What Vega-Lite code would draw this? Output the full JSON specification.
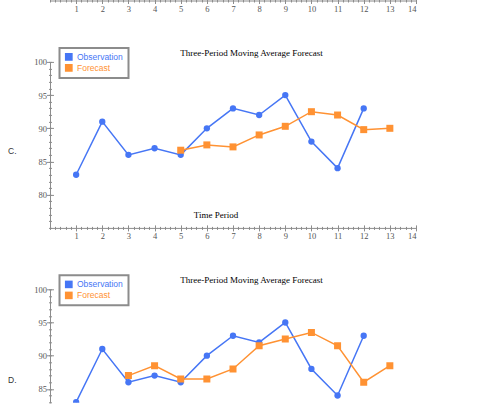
{
  "$schema": "https://vega.github.io/schema/vega-lite/v6.json",
  "description": "Three-period moving average forecast, panels C and D",
  "background": "white",
  "padding": {"left": 7, "top": -3.5, "right": 0, "bottom": 0},
  "bounds": "flush",
  "spacing": 61.4,
  "datasets": {
    "c": [
      {"period": 1, "value": 83, "series": "Observation"},
      {"period": 2, "value": 91, "series": "Observation"},
      {"period": 3, "value": 86, "series": "Observation"},
      {"period": 4, "value": 87, "series": "Observation"},
      {"period": 5, "value": 86, "series": "Observation"},
      {"period": 6, "value": 90, "series": "Observation"},
      {"period": 7, "value": 93, "series": "Observation"},
      {"period": 8, "value": 92, "series": "Observation"},
      {"period": 9, "value": 95, "series": "Observation"},
      {"period": 10, "value": 88, "series": "Observation"},
      {"period": 11, "value": 84, "series": "Observation"},
      {"period": 12, "value": 93, "series": "Observation"},
      {"period": 5, "value": 86.7, "series": "Forecast"},
      {"period": 6, "value": 87.5, "series": "Forecast"},
      {"period": 7, "value": 87.2, "series": "Forecast"},
      {"period": 8, "value": 89, "series": "Forecast"},
      {"period": 9, "value": 90.3, "series": "Forecast"},
      {"period": 10, "value": 92.5, "series": "Forecast"},
      {"period": 11, "value": 92, "series": "Forecast"},
      {"period": 12, "value": 89.8, "series": "Forecast"},
      {"period": 13, "value": 90, "series": "Forecast"}
    ],
    "d": [
      {"period": 1, "value": 83, "series": "Observation"},
      {"period": 2, "value": 91, "series": "Observation"},
      {"period": 3, "value": 86, "series": "Observation"},
      {"period": 4, "value": 87, "series": "Observation"},
      {"period": 5, "value": 86, "series": "Observation"},
      {"period": 6, "value": 90, "series": "Observation"},
      {"period": 7, "value": 93, "series": "Observation"},
      {"period": 8, "value": 92, "series": "Observation"},
      {"period": 9, "value": 95, "series": "Observation"},
      {"period": 10, "value": 88, "series": "Observation"},
      {"period": 11, "value": 84, "series": "Observation"},
      {"period": 12, "value": 93, "series": "Observation"},
      {"period": 3, "value": 87, "series": "Forecast"},
      {"period": 4, "value": 88.5, "series": "Forecast"},
      {"period": 5, "value": 86.5, "series": "Forecast"},
      {"period": 6, "value": 86.5, "series": "Forecast"},
      {"period": 7, "value": 88, "series": "Forecast"},
      {"period": 8, "value": 91.5, "series": "Forecast"},
      {"period": 9, "value": 92.5, "series": "Forecast"},
      {"period": 10, "value": 93.5, "series": "Forecast"},
      {"period": 11, "value": 91.5, "series": "Forecast"},
      {"period": 12, "value": 86, "series": "Forecast"},
      {"period": 13, "value": 88.5, "series": "Forecast"}
    ]
  },
  "resolve": {"legend": {"color": "independent"}},
  "vconcat": [
    {
      "width": 366,
      "height": 1,
      "data": {"name": "c"},
      "layer": [
        {
          "mark": {"type": "point", "opacity": 0},
          "encoding": {
            "x": {"field": "period", "type": "quantitative", "scale": {"domain": [0, 14], "nice": false},
              "axis": {"orient": "bottom", "values": [1, 2, 3, 4, 5, 6, 7, 8, 9, 10, 11, 12, 13, 14], "ticks": false, "tickSize": 0, "labelPadding": 4, "title": null}},
            "y": {"field": "value", "type": "quantitative", "scale": {"domain": [75, 100], "nice": false, "zero": false}, "axis": null}
          }
        },
        {
          "mark": {"type": "point", "opacity": 0},
          "encoding": {
            "x": {"field": "period", "type": "quantitative",
              "axis": {"orient": "bottom", "values": [1, 2, 3, 4, 5, 6, 7, 8, 9, 10, 11, 12, 13, 14], "labels": false, "domain": false, "title": null, "tickSize": 6, "offset": -3}},
            "y": {"field": "value", "type": "quantitative", "axis": null}
          }
        },
        {
          "mark": {"type": "point", "opacity": 0},
          "encoding": {
            "x": {"field": "period", "type": "quantitative",
              "axis": {"orient": "bottom", "values": [0,0.2,0.4,0.6,0.8,1,1.2,1.4,1.6,1.8,2,2.2,2.4,2.6,2.8,3,3.2,3.4,3.6,3.8,4,4.2,4.4,4.6,4.8,5,5.2,5.4,5.6,5.8,6,6.2,6.4,6.6,6.8,7,7.2,7.4,7.6,7.8,8,8.2,8.4,8.6,8.8,9,9.2,9.4,9.6,9.8,10,10.2,10.4,10.6,10.8,11,11.2,11.4,11.6,11.8,12,12.2,12.4,12.6,12.8,13,13.2,13.4,13.6,13.8,14], "labels": false, "domain": false, "title": null, "tickSize": 3, "offset": -1.5}},
            "y": {"field": "value", "type": "quantitative", "axis": null}
          }
        }
      ],
      "resolve": {"axis": {"x": "independent"}}
    },
    {
      "width": 366,
      "height": 166,
      "data": {"name": "c"},
      "title": {"text": "Three-Period Moving Average Forecast", "font": "Liberation Serif", "fontSize": 9, "fontWeight": "normal", "color": "black", "anchor": "middle", "frame": "group", "dx": 18.5, "dy": 15, "offset": 4},
      "layer": [
        {
          "mark": {"type": "line", "strokeWidth": 1.5},
          "encoding": {
            "x": {"field": "period", "type": "quantitative", "scale": {"domain": [0, 14], "nice": false},
              "axis": {"orient": "bottom", "values": [1, 2, 3, 4, 5, 6, 7, 8, 9, 10, 11, 12, 13, 14], "ticks": false, "tickSize": 0, "labelPadding": 4,
                "title": "Time Period", "titleFont": "Liberation Serif", "titleFontSize": 9, "titleFontWeight": "normal", "titleColor": "black", "titleX": 165.5, "titleY": -13, "titleAlign": "center", "titleBaseline": "middle"}},
            "y": {"field": "value", "type": "quantitative", "scale": {"domain": [75, 100], "nice": false, "zero": false},
              "axis": {"orient": "left", "values": [80, 85, 90, 95, 100], "ticks": false, "tickSize": 0, "labelPadding": 3.5,
                "title": "C.", "titleAngle": 0, "titleX": -42.5, "titleY": 89, "titleAlign": "left", "titleBaseline": "middle", "titleFont": "Liberation Sans", "titleFontSize": 8.5, "titleFontWeight": "normal", "titleColor": "#333"}},
            "color": {"field": "series", "type": "nominal",
              "scale": {"domain": ["Observation", "Forecast"], "range": ["#4676f5", "#ff9233"]},
              "legend": {
                "orient": "none", "legendX": 9.5, "legendY": -14, "title": null,
                "symbolType": "square", "symbolSize": 40, "labelFont": "Liberation Sans", "labelFontSize": 8.5,
                "labelOffset": 4, "padding": 5, "rowPadding": 2, "clipHeight": 8,
                "labelExpr": "datum.label + '\u00a0\u00a0\u00a0\u00a0\u00a0\u00a0\u00a0\u00a0'",
                "encode": {
                  "legend": {"update": {"stroke": {"value": "#8c8c8c"}, "strokeWidth": {"value": 2}, "fill": {"value": "white"}}},
                  "symbols": {"update": {"fill": {"signal": "datum.value === 'Observation' ? '#4676f5' : '#ff9233'"}, "stroke": {"value": "transparent"}, "opacity": {"value": 1}}},
                  "labels": {"update": {"fill": {"signal": "datum.value === 'Observation' ? '#4676f5' : '#ff9233'"}}}
                }
              }}
          }
        },
        {
          "transform": [{"filter": "datum.series === 'Observation'"}],
          "mark": {"type": "circle", "size": 40, "opacity": 1, "color": "#4676f5"},
          "encoding": {
            "x": {"field": "period", "type": "quantitative",
              "axis": {"orient": "bottom", "values": [1, 2, 3, 4, 5, 6, 7, 8, 9, 10, 11, 12, 13, 14], "labels": false, "domain": false, "title": null, "tickSize": 6, "offset": -3}},
            "y": {"field": "value", "type": "quantitative",
              "axis": {"orient": "left", "values": [80, 85, 90, 95, 100], "labels": false, "domain": false, "title": null, "tickSize": 7, "offset": -3.5}}
          }
        },
        {
          "transform": [{"filter": "datum.series === 'Forecast'"}],
          "mark": {"type": "square", "size": 49, "opacity": 1, "color": "#ff9233"},
          "encoding": {
            "x": {"field": "period", "type": "quantitative",
              "axis": {"orient": "bottom", "values": [0,0.2,0.4,0.6,0.8,1,1.2,1.4,1.6,1.8,2,2.2,2.4,2.6,2.8,3,3.2,3.4,3.6,3.8,4,4.2,4.4,4.6,4.8,5,5.2,5.4,5.6,5.8,6,6.2,6.4,6.6,6.8,7,7.2,7.4,7.6,7.8,8,8.2,8.4,8.6,8.8,9,9.2,9.4,9.6,9.8,10,10.2,10.4,10.6,10.8,11,11.2,11.4,11.6,11.8,12,12.2,12.4,12.6,12.8,13,13.2,13.4,13.6,13.8,14], "labels": false, "domain": false, "title": null, "tickSize": 3, "offset": -1.5}},
            "y": {"field": "value", "type": "quantitative",
              "axis": {"orient": "left", "values": [75,76,77,78,79,80,81,82,83,84,85,86,87,88,89,90,91,92,93,94,95,96,97,98,99,100], "labels": false, "domain": false, "title": null, "tickSize": 3, "offset": -1.5}}
          }
        }
      ],
      "resolve": {"axis": {"x": "independent", "y": "independent"}}
    },
    {
      "width": 366,
      "height": 113.5,
      "data": {"name": "d"},
      "title": {"text": "Three-Period Moving Average Forecast", "font": "Liberation Serif", "fontSize": 9, "fontWeight": "normal", "color": "black", "anchor": "middle", "frame": "group", "dx": 18.5, "dy": 15, "offset": 4},
      "layer": [
        {
          "mark": {"type": "line", "strokeWidth": 1.5, "clip": true},
          "encoding": {
            "x": {"field": "period", "type": "quantitative", "scale": {"domain": [0, 14], "nice": false}, "axis": null},
            "y": {"field": "value", "type": "quantitative", "scale": {"domain": [82.9, 100], "nice": false, "zero": false},
              "axis": {"orient": "left", "values": [85, 90, 95, 100], "ticks": false, "tickSize": 0, "labelPadding": 3.5,
                "title": "D.", "titleAngle": 0, "titleX": -42.5, "titleY": 90, "titleAlign": "left", "titleBaseline": "middle", "titleFont": "Liberation Sans", "titleFontSize": 8.5, "titleFontWeight": "normal", "titleColor": "#333"}},
            "color": {"field": "series", "type": "nominal",
              "scale": {"domain": ["Observation", "Forecast"], "range": ["#4676f5", "#ff9233"]},
              "legend": {
                "orient": "none", "legendX": 9.5, "legendY": -14, "title": null,
                "symbolType": "square", "symbolSize": 40, "labelFont": "Liberation Sans", "labelFontSize": 8.5,
                "labelOffset": 4, "padding": 5, "rowPadding": 2, "clipHeight": 8,
                "labelExpr": "datum.label + '\u00a0\u00a0\u00a0\u00a0\u00a0\u00a0\u00a0\u00a0'",
                "encode": {
                  "legend": {"update": {"stroke": {"value": "#8c8c8c"}, "strokeWidth": {"value": 2}, "fill": {"value": "white"}}},
                  "symbols": {"update": {"fill": {"signal": "datum.value === 'Observation' ? '#4676f5' : '#ff9233'"}, "stroke": {"value": "transparent"}, "opacity": {"value": 1}}},
                  "labels": {"update": {"fill": {"signal": "datum.value === 'Observation' ? '#4676f5' : '#ff9233'"}}}
                }
              }}
          }
        },
        {
          "transform": [{"filter": "datum.series === 'Observation'"}],
          "mark": {"type": "circle", "size": 40, "opacity": 1, "color": "#4676f5", "clip": true},
          "encoding": {
            "x": {"field": "period", "type": "quantitative", "axis": null},
            "y": {"field": "value", "type": "quantitative",
              "axis": {"orient": "left", "values": [85, 90, 95, 100], "labels": false, "domain": false, "title": null, "tickSize": 7, "offset": -3.5}}
          }
        },
        {
          "transform": [{"filter": "datum.series === 'Forecast'"}],
          "mark": {"type": "square", "size": 49, "opacity": 1, "color": "#ff9233", "clip": true},
          "encoding": {
            "x": {"field": "period", "type": "quantitative", "axis": null},
            "y": {"field": "value", "type": "quantitative",
              "axis": {"orient": "left", "values": [83,84,85,86,87,88,89,90,91,92,93,94,95,96,97,98,99,100], "labels": false, "domain": false, "title": null, "tickSize": 3, "offset": -1.5}}
          }
        }
      ],
      "resolve": {"axis": {"y": "independent"}}
    }
  ],
  "config": {
    "view": {"stroke": null},
    "axis": {
      "grid": false,
      "domainColor": "#8c8c8c",
      "tickColor": "#8c8c8c",
      "labelFont": "Liberation Serif",
      "labelFontSize": 8.5,
      "labelColor": "#555555"
    }
  }
}
